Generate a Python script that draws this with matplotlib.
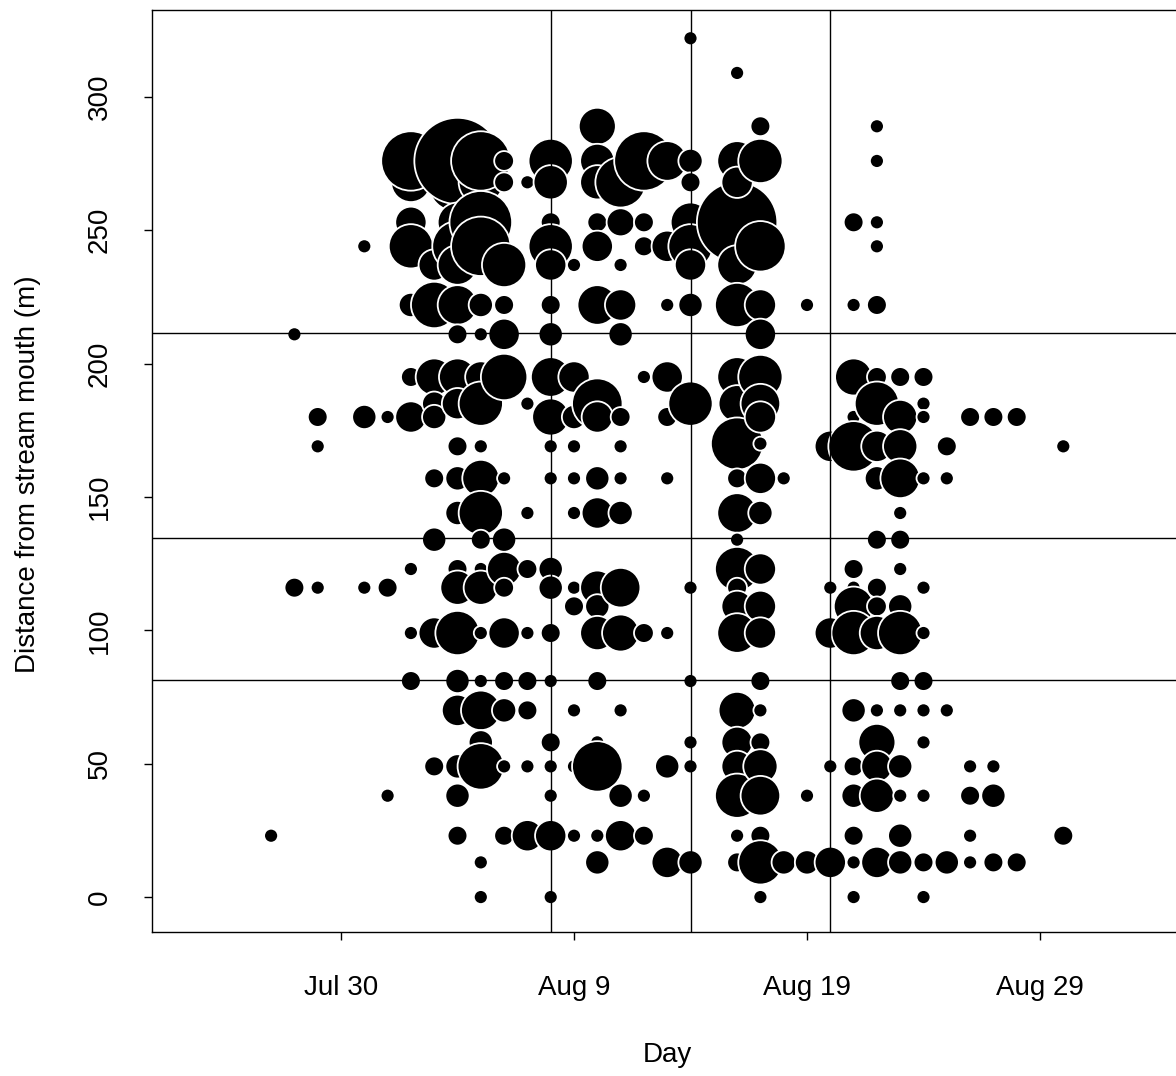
import datetime as dt
import numpy as np
import matplotlib
matplotlib.use("Agg")
import matplotlib.pyplot as plt
import matplotlib.dates as mdates

plt.rcParams['font.family'] = ['Liberation Sans', 'DejaVu Sans']

# one entry per bubble: date (month, day), distance from mouth (m), count
# grouped by date, one line per date
day = (["07-27"] * 1 + ["07-28"] * 2 + ["07-29"] * 3 + ["07-31"] * 3 + ["08-01"] * 3
       + ["08-02"] * 10 + ["08-03"] * 9 + ["08-04"] * 20 + ["08-05"] * 21 + ["08-06"] * 15
       + ["08-07"] * 9 + ["08-08"] * 20 + ["08-09"] * 11 + ["08-10"] * 18 + ["08-11"] * 14
       + ["08-12"] * 7 + ["08-13"] * 9 + ["08-14"] * 13 + ["08-16"] * 22 + ["08-17"] * 22
       + ["08-18"] * 2 + ["08-19"] * 3 + ["08-20"] * 5 + ["08-21"] * 15 + ["08-22"] * 18
       + ["08-23"] * 15 + ["08-24"] * 12 + ["08-25"] * 4 + ["08-26"] * 5 + ["08-27"] * 4
       + ["08-28"] * 2 + ["08-30"] * 2)

dist = [23,
        211, 116,
        180, 169, 116,
        244, 180, 116,
        180, 116, 38,
        268, 276, 253, 244, 222, 195, 180, 123, 99, 81,
        237, 222, 195, 185, 180, 157, 134, 99, 49,
        268, 276, 253, 244, 237, 222, 211, 195, 185, 169, 157, 144, 123, 116, 99, 81, 70, 49, 38, 23,
        268, 276, 253, 244, 222, 211, 195, 185, 169, 157, 144, 134, 123, 116, 99, 81, 70, 58, 49, 13, 0,
        276, 268, 237, 222, 211, 195, 157, 134, 123, 116, 99, 81, 70, 49, 23,
        268, 185, 144, 123, 99, 81, 70, 49, 23,
        276, 268, 253, 244, 237, 222, 211, 195, 180, 169, 157, 123, 116, 99, 81, 58, 49, 38, 23, 0,
        237, 195, 180, 169, 157, 144, 116, 109, 70, 49, 23,
        289, 276, 268, 253, 244, 222, 185, 180, 157, 144, 116, 109, 99, 81, 58, 49, 23, 13,
        268, 253, 237, 222, 211, 180, 169, 157, 144, 116, 99, 70, 38, 23,
        276, 253, 244, 195, 99, 38, 23,
        276, 244, 222, 195, 180, 157, 99, 49, 13,
        322, 276, 268, 253, 244, 237, 222, 185, 116, 81, 58, 49, 13,
        253, 309, 276, 268, 237, 222, 195, 185, 170, 157, 144, 134, 123, 116, 109, 99, 70, 58, 49, 38, 23, 13,
        289, 276, 244, 222, 211, 195, 185, 180, 170, 157, 144, 123, 109, 99, 81, 70, 58, 49, 38, 23, 13, 0,
        157, 13,
        222, 38, 13,
        169, 116, 99, 49, 13,
        253, 222, 195, 180, 169, 123, 116, 109, 99, 70, 49, 38, 23, 13, 0,
        289, 276, 253, 244, 222, 195, 185, 169, 157, 134, 116, 109, 99, 70, 58, 49, 38, 13,
        195, 180, 169, 157, 144, 134, 123, 109, 99, 81, 70, 49, 38, 23, 13,
        195, 185, 180, 157, 116, 99, 81, 70, 58, 38, 13, 0,
        169, 157, 70, 13,
        180, 49, 38, 23, 13,
        180, 49, 38, 13,
        180, 13,
        169, 23]

count = [1,
         1, 2,
         2, 1, 1,
         1, 3, 1,
         1, 2, 1,
         8, 18, 5, 10, 3, 2, 5, 1, 1, 2,
         5, 11, 7, 3, 3, 2, 3, 5, 2,
         18, 38, 8, 13, 8, 8, 2, 7, 5, 2, 3, 3, 2, 6, 10, 3, 5, 3, 3, 2,
         10, 18, 20, 18, 3, 1, 5, 10, 1, 7, 10, 2, 1, 6, 1, 1, 8, 3, 11, 1, 1,
         2, 2, 10, 2, 5, 11, 1, 3, 6, 2, 5, 2, 3, 1, 2,
         1, 1, 1, 2, 1, 2, 2, 1, 5,
         10, 6, 2, 10, 5, 2, 3, 8, 7, 1, 1, 3, 3, 2, 1, 2, 1, 1, 5, 1,
         1, 5, 3, 1, 1, 1, 1, 2, 1, 1, 1,
         7, 6, 6, 2, 5, 8, 13, 5, 3, 5, 6, 3, 6, 2, 1, 13, 1, 3,
         13, 4, 1, 5, 3, 2, 1, 1, 3, 8, 7, 1, 3, 5,
         18, 2, 2, 1, 2, 1, 2,
         8, 5, 1, 5, 2, 1, 1, 3, 5,
         1, 3, 2, 8, 10, 5, 3, 10, 1, 1, 1, 1, 3,
         33, 1, 8, 5, 8, 10, 8, 7, 14, 2, 8, 1, 10, 2, 5, 8, 7, 5, 5, 10, 1, 2,
         2, 10, 13, 5, 5, 10, 8, 5, 1, 5, 3, 5, 5, 5, 2, 1, 2, 6, 8, 2, 10, 1,
         1, 3,
         1, 1, 3,
         5, 1, 5, 1, 5,
         2, 1, 7, 1, 13, 2, 1, 8, 10, 3, 2, 3, 2, 1, 1,
         1, 1, 1, 1, 2, 2, 10, 5, 3, 2, 2, 2, 6, 1, 7, 5, 6, 5,
         2, 6, 6, 8, 1, 2, 1, 3, 10, 2, 1, 3, 1, 3, 3,
         2, 1, 1, 1, 1, 1, 2, 1, 1, 1, 2, 1,
         2, 1, 1, 3,
         2, 1, 2, 1, 1,
         2, 1, 3, 2,
         2, 2,
         1, 2]

# reference lines
vlines = ["08-08", "08-14", "08-20"]
hlines = [211.5, 134.5, 81.5]

tick_days = ["07-30", "08-09", "08-19", "08-29"]
tick_labels = ["Jul 30", "Aug 9", "Aug 19", "Aug 29"]
yticks = [0, 50, 100, 150, 200, 250, 300]


def to_date(s):
    m, d = s.split("-")
    return mdates.date2num(dt.date(2013, int(m), int(d)))


x = np.array([to_date(s) for s in day])
y = np.array(dist)
n = np.array(count)

W, H = 1176, 1076
fig = plt.figure(figsize=(W / 100, H / 100), dpi=100)
ax_w = 1030
ax = fig.add_axes([152 / W, 1 - 932 / H, ax_w / W, 922 / H])

# bubble area proportional to count (smallest radius ~7 px)
s = (1.44 * 7) ** 2 * n
ax.scatter(x, y, s=s, c="black", edgecolors="white", linewidths=1.3, zorder=2)

for v in vlines:
    ax.axvline(to_date(v), color="black", lw=1, zorder=3)
for h in hlines:
    ax.axhline(h, color="black", lw=1, zorder=3)

px_day = 23.3
x0 = to_date("07-30") - 189 / px_day
ax.set_xlim(x0, x0 + ax_w / px_day)
ax.set_ylim(-13.1, 332.6)

ax.set_xticks([to_date(t) for t in tick_days])
ax.set_xticklabels(tick_labels)
ax.set_yticks(yticks)
ax.set_yticklabels([str(v) for v in yticks], rotation=90, va="center")
ax.tick_params(direction="out", length=6, width=1, labelsize=20)
ax.tick_params(axis="x", pad=25)
ax.tick_params(axis="y", pad=22)

for sp in ax.spines.values():
    sp.set_linewidth(1)

fig.text(667 / W, 1 - 1055 / H, "Day", ha="center", va="center", fontsize=20)
fig.text(28 / W, 1 - 474 / H, "Distance from stream mouth (m)", ha="center",
         va="center", rotation=90, fontsize=20)

fig.savefig("out.png", dpi=100)
